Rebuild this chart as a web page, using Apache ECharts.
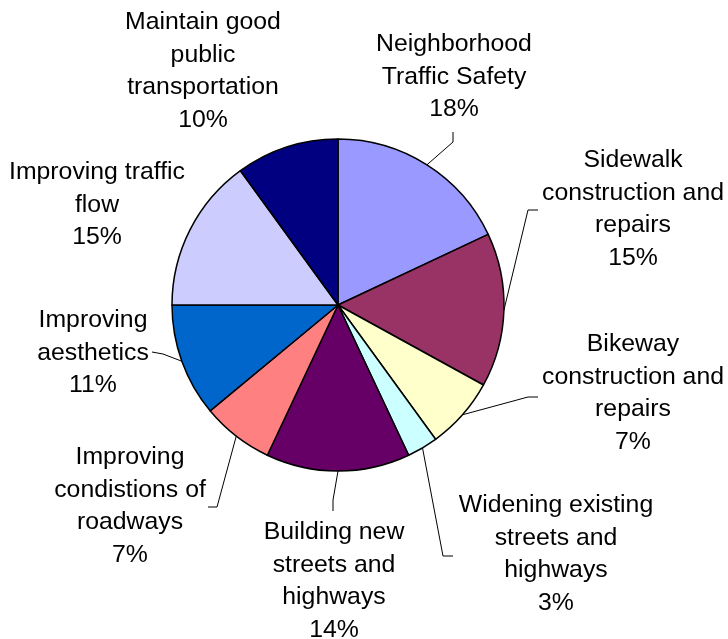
<!DOCTYPE html>
<html><head><meta charset="utf-8">
<script src="https://cdn.jsdelivr.net/npm/echarts@6/dist/echarts.min.js"></script>
<style>html,body{margin:0;padding:0;background:#fff}#c{width:728px;height:639px}</style>
</head><body><div id="c"></div>
<script>
const categories = [
  'Neighborhood\nTraffic Safety',
  'Sidewalk\nconstruction and\nrepairs',
  'Bikeway\nconstruction and\nrepairs',
  'Widening existing\nstreets and\nhighways',
  'Building new\nstreets and\nhighways',
  'Improving\ncondistions of\nroadways',
  'Improving\naesthetics',
  'Improving traffic\nflow',
  'Maintain good\npublic\ntransportation'
];
const values = [18, 15, 7, 3, 14, 7, 11, 15, 10];
const colors = ['#9999FF','#993366','#FFFFCC','#CCFFFF','#660066','#FF8080','#0066CC','#CCCCFF','#000080'];

// label placement (layout only): label centre and leader elbow/end
const labelPos = [
  {c:[454,77],  line:[[453,142],[453,132]]},
  {c:[633,209], line:[[528,210],[538,210]]},
  {c:[633,393], line:[[528,397],[538,397]]},
  {c:[556,554], line:[[443,556],[453,556]]},
  {c:[334,581], line:[[333,500],[333,511]]},
  {c:[130,506], line:[[217,507],[208,507]]},
  {c:[93,353],  line:[[163,354],[152,352]]},
  {c:[97,205],  line:null},
  {c:[203,71],  line:null}
];

const data = categories.map((n, i) => {
  const d = {name: n, value: values[i], itemStyle: {color: colors[i]}};
  if (!labelPos[i].line) d.labelLine = {show: false};
  return d;
});

const chart = echarts.init(document.getElementById('c'), null, {renderer: 'canvas'});
chart.setOption({
  animation: false,
  backgroundColor: '#ffffff',
  series: [{
    type: 'pie',
    center: [338, 305],
    radius: 166,
    startAngle: 90,
    clockwise: true,
    avoidLabelOverlap: false,
    data: data,
    itemStyle: {borderColor: '#000', borderWidth: 1.5},
    label: {
      show: true,
      position: 'outside',
      color: '#000',
      fontFamily: 'Liberation Sans, Arial, sans-serif',
      fontSize: 24.8,
      lineHeight: 32.5,
      formatter: p => p.name + '\n' + Math.round(p.percent) + '%'
    },
    labelLine: {show: true, length: 10, length2: 10, smooth: false, lineStyle: {color: '#000', width: 1}},
    labelLayout: function (p) {
      const L = labelPos[p.dataIndex];
      const out = {x: L.c[0], y: L.c[1], align: 'center', verticalAlign: 'middle'};
      if (L.line && p.labelLinePoints) {
        out.labelLinePoints = [p.labelLinePoints[0], L.line[0], L.line[1]];
      }
      return out;
    },
    emphasis: {disabled: true}
  }]
});
</script>
</body></html>
